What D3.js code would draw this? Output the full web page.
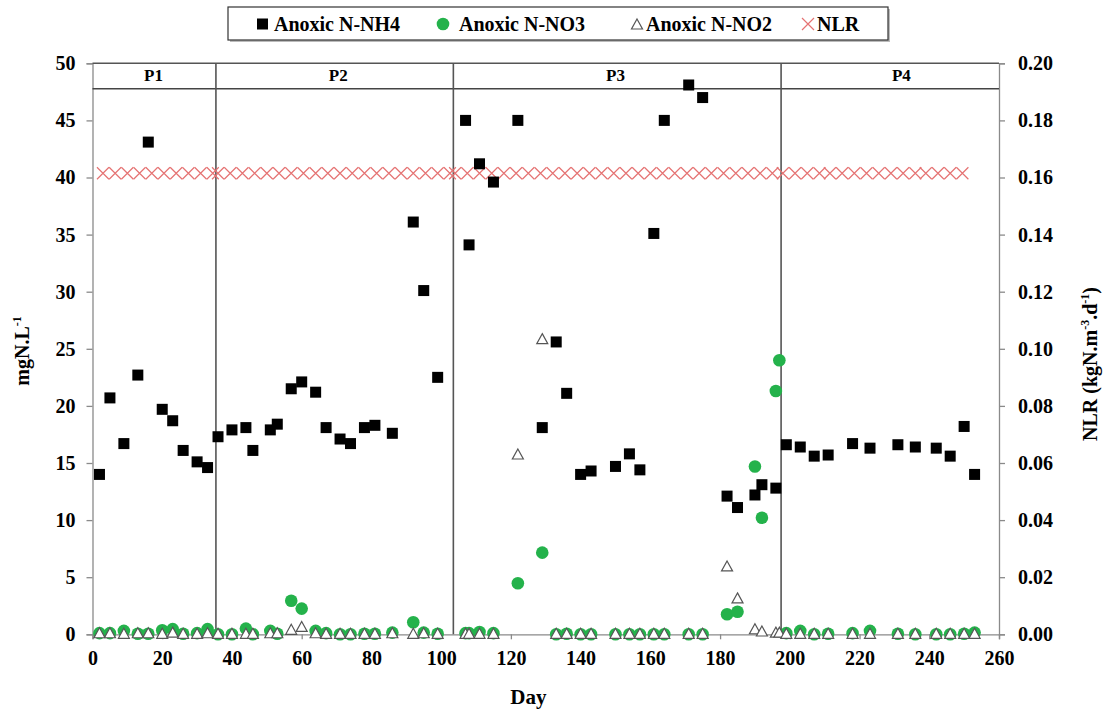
<!DOCTYPE html>
<html>
<head>
<meta charset="utf-8">
<script src="https://cdn.jsdelivr.net/npm/d3@7"></script>
<style>
  body { margin: 0; background: #fff; }
  svg text { font-family: "Liberation Serif", "Times New Roman", serif; font-weight: bold; }
</style>
</head>
<body>
<svg id="chart"></svg>
<script>
// sampling days and concentrations (mgN/L)
const days = [2, 5, 9, 13, 16, 20, 23, 26, 30, 33, 36, 40, 44, 46, 51, 53, 57, 60, 64, 67, 71, 74, 78, 81, 86, 92, 95, 99,
  107, 108, 111, 115, 122, 129, 133, 136, 140, 143, 150, 154, 157, 161, 164, 171, 175, 182, 185, 190, 192, 196, 197,
  199, 203, 207, 211, 218, 223, 231, 236, 242, 246, 250, 253];
const nh4 = [14.0, 20.7, 16.7, 22.7, 43.1, 19.7, 18.7, 16.1, 15.1, 14.6, 17.3, 17.9, 18.1, 16.1, 17.9, 18.4, 21.5, 22.1, 21.2, 18.1, 17.1, 16.7, 18.1, 18.3, 17.6, 36.1, 30.1, 22.5,
  45.0, 34.1, 41.2, 39.6, 45.0, 18.1, 25.6, 21.1, 14.0, 14.3, 14.7, 15.8, 14.4, 35.1, 45.0, 48.1, 47.0, 12.1, 11.1, 12.2, 13.1, 12.8, null,
  16.6, 16.4, 15.6, 15.7, 16.7, 16.3, 16.6, 16.4, 16.3, 15.6, 18.2, 14.0];
const no3 = [0.1, 0.1, 0.3, 0.05, 0.05, 0.35, 0.45, 0.05, 0.1, 0.45, 0, 0, 0.5, 0, 0.3, 0.05, 2.94, 2.25, 0.3, 0.1, 0, 0, 0.05, 0.05, 0.15, 1.05, 0.15, 0.05,
  0.1, 0.1, 0.2, 0.1, 4.47, 7.15, 0, 0.05, 0, 0, 0, 0, 0, 0, 0, 0, 0, 1.75, 1.98, 14.7, 10.2, 21.3, 24.0,
  0.1, 0.3, 0, 0.05, 0.1, 0.3, 0.05, 0, 0, 0, 0.05, 0.15];
const no2 = [0.05, 0.05, 0, 0.05, 0.05, 0, 0.1, 0, 0, 0.05, 0, 0, 0, 0, 0.05, 0.05, 0.35, 0.6, 0.05, 0, 0, 0, 0, 0, 0.05, 0, 0.05, 0,
  0, 0, 0, 0, 15.7, 25.8, 0, 0, 0, 0, 0, 0, 0, 0, 0, 0, 0, 5.9, 3.1, 0.4, 0.2, 0.1, 0.1,
  0, 0, 0, 0, 0, 0, 0, 0, 0, 0, 0, 0];

// nitrogen loading rate (kgN/m3/d)
const nlrDays = [3, 6.5, 10, 13.5, 17, 20.5, 24, 27.5, 31, 34.5,
  36, 39.5, 43, 46.5, 50, 53.5, 57, 60.5, 64, 67.5, 71, 74.5, 78, 81.5, 85, 88.5, 92, 95.5, 99, 102.5,
  104, 107.5, 111, 114.5, 118, 121.5, 125, 128.5, 132, 135.5, 139, 142.5, 146, 149.5, 153, 156.5, 160, 163.5, 167, 170.5, 174, 177.5, 181, 184.5, 188, 191.5, 195,
  198, 201.5, 205, 208.5, 211.5, 215, 218.5, 222, 225.5, 229, 232.5, 236, 239, 242.5, 246, 249.5];
const nlr = nlrDays.map(() => 0.1615);

const periodNames = ["P1", "P2", "P3", "P4"];
const periodBounds = [0, 35.4, 103.5, 197.5, 260];
const periodLabelDay = [17.5, 70.5, 150, 232];

const xTicks = d3.range(0, 261, 20);
const yTicks = d3.range(0, 51, 5);
const y2Ticks = [0, 0.02, 0.04, 0.06, 0.08, 0.10, 0.12, 0.14, 0.16, 0.18, 0.20];

const width = 1104, height = 713;
const svg = d3.select("#chart").attr("width", width).attr("height", height);

const x = d3.scaleLinear().domain([0, 260]).range([92.5, 999]);
const y = d3.scaleLinear().domain([0, 50]).range([634.3, 63.3]);
const y2 = d3.scaleLinear().domain([0, 0.2]).range([634.3, 63.3]);

const axisCol = "#8a8a8a";

// axes
const gx = svg.append("g").attr("transform", `translate(0,${y(0)})`)
  .call(d3.axisBottom(x).tickValues(xTicks).tickSize(5).tickPadding(9));
const gy = svg.append("g").attr("transform", `translate(${x(0)},0)`)
  .call(d3.axisLeft(y).tickValues(yTicks).tickSize(6).tickPadding(11));
const gy2 = svg.append("g").attr("transform", `translate(${x(260)},0)`)
  .call(d3.axisRight(y2).tickValues(y2Ticks).tickSize(6).tickPadding(13).tickFormat(d3.format(".2f")));
[gx, gy, gy2].forEach(g => {
  g.selectAll("path, line").attr("stroke", axisCol).attr("stroke-width", 1.3);
  g.selectAll("text").attr("fill", "#000").style("font-size", "20px")
    .style("font-family", '"Liberation Serif", serif').style("font-weight", "bold");
});
gx.selectAll("text").attr("dy", "0.85em");

// period header box and dividers
const hdr = svg.append("g");
hdr.append("line").attr("x1", x(0)).attr("x2", x(260)).attr("y1", y(50)).attr("y2", y(50))
  .attr("stroke", "#555").attr("stroke-width", 1.5);
hdr.append("line").attr("x1", x(0)).attr("x2", x(260)).attr("y1", y(50) + 25.4).attr("y2", y(50) + 25.4)
  .attr("stroke", "#444").attr("stroke-width", 1.5);
hdr.selectAll("line.div").data(periodBounds.slice(1, -1)).enter().append("line")
  .attr("x1", d => x(d)).attr("x2", d => x(d)).attr("y1", y(50)).attr("y2", y(0))
  .attr("stroke", "#555").attr("stroke-width", 1.6);
hdr.selectAll("text").data(periodNames).enter().append("text")
  .attr("x", (d, i) => x(periodLabelDay[i])).attr("y", y(50) + 18)
  .attr("text-anchor", "middle").style("font-size", "17px").text(d => d);

// NLR crosses
svg.append("g").selectAll("path").data(nlrDays).enter().append("path")
  .attr("transform", (d, i) => `translate(${x(d)},${y2(nlr[i])})`)
  .attr("d", "M-6,-6L6,6M-6,6L6,-6")
  .attr("stroke", "#e57373").attr("stroke-width", 1.2).attr("fill", "none");

// NH4 squares
svg.append("g").selectAll("rect").data(days.filter((d, i) => nh4[i] != null)).enter().append("rect")
  .attr("x", d => x(d) - 5.5).attr("y", d => y(nh4[days.indexOf(d)]) - 5.5)
  .attr("width", 11).attr("height", 11).attr("fill", "#000");

// NO3 circles
svg.append("g").selectAll("circle").data(days).enter().append("circle")
  .attr("cx", d => x(d)).attr("cy", (d, i) => y(no3[i])).attr("r", 6.3)
  .attr("fill", "#24b24b");

// NO2 triangles
svg.append("g").selectAll("path").data(days).enter().append("path")
  .attr("transform", (d, i) => `translate(${x(d)},${y(no2[i])})`)
  .attr("d", "M0,-6L5.5,4L-5.5,4Z")
  .attr("fill", "#fff").attr("stroke", "#555").attr("stroke-width", 1.2);

// axis titles
svg.append("text").attr("transform", `translate(29,351) rotate(-90)`)
  .attr("text-anchor", "middle").style("font-size", "20px")
  .html('mgN.L<tspan dy="-8" font-size="12">-1</tspan>');
svg.append("text").attr("transform", `translate(1097,364) rotate(-90)`)
  .attr("text-anchor", "middle").style("font-size", "20px")
  .html('NLR (kgN.m<tspan dy="-8" font-size="12">-3</tspan><tspan dy="8">.d</tspan><tspan dy="-8" font-size="12">-1</tspan><tspan dy="8">)</tspan>');
svg.append("text").attr("x", x(125)).attr("y", 704).attr("text-anchor", "middle")
  .style("font-size", "21px").text("Day");

// legend
const leg = svg.append("g");
leg.append("rect").attr("x", 230).attr("y", 9).attr("width", 660).attr("height", 33)
  .attr("fill", "#bbb");
leg.append("rect").attr("x", 228).attr("y", 7).attr("width", 660).attr("height", 33)
  .attr("fill", "#fff").attr("stroke", "#333").attr("stroke-width", 1.2);
const ly = 24;
leg.append("rect").attr("x", 257).attr("y", ly - 5.5).attr("width", 11).attr("height", 11).attr("fill", "#000");
leg.append("circle").attr("cx", 443).attr("cy", ly).attr("r", 6.3).attr("fill", "#24b24b");
leg.append("path").attr("transform", `translate(637,${ly + 1})`).attr("d", "M0,-6L5.5,4L-5.5,4Z")
  .attr("fill", "#fff").attr("stroke", "#555").attr("stroke-width", 1.2);
leg.append("path").attr("transform", `translate(808,${ly})`).attr("d", "M-6,-6L6,6M-6,6L6,-6")
  .attr("stroke", "#e57373").attr("stroke-width", 1.2);
const legLabels = ["Anoxic N-NH4", "Anoxic N-NO3", "Anoxic N-NO2", "NLR"];
const legX = [274, 459, 646, 817];
leg.selectAll("text").data(legLabels).enter().append("text")
  .attr("x", (d, i) => legX[i]).attr("y", ly + 7).style("font-size", "20px").text(d => d);
</script>
</body>
</html>
